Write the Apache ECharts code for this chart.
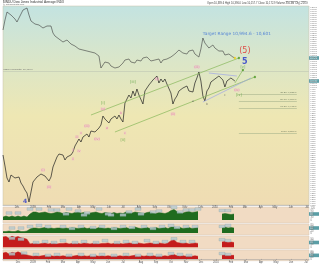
<!DOCTYPE html>
<html><head><meta charset="utf-8">
<script src="https://cdn.jsdelivr.net/npm/echarts@6/dist/echarts.min.js"></script>
<style>html,body{margin:0;padding:0;background:#fff}#c{width:320px;height:264px}</style>
</head><body><div id="c"></div>
<script>
// ---------- data ----------
const mainValues = [8300,8025,7725,7625,7800,7825,7725,7675,7750,7600,
7525,7425,7350,7125,7375,7625,7675,7750,7775,7825,
7800,7775,7725,7650,7750,8000,8125,8250,8325,8350,
8300,8175,8250,8200,8300,8375,8525,8575,8700,8625,
8750,8700,8825,8750,8900,8925,8875,8850,8975,9050,
9275,9200,9175,9100,9200,9175,9275,9200,9300,9200,
9125,9600,9650,9800,9725,9900,9775,9950,9800,9850,
9575,9900,9850,10050,10000,10175,10125,10275,10100,10200,
10125,10200,10075,10050,9850,9575,9700,9775,9900,9850,
9975,9925,10025,9900,9950,9875,10100,10225,10375,10150,
9775,9650,9900,9975,10125,10075,10200,10175,10275,10225,
10175,10000,10150,10100,10225,10175,10150];
const compareValues = [11425,11675,11875,11825,11800,11825,11700,11625,11725,11825,
11925,11950,11975,11800,11650,11600,11575,11550,11550,11500,
11475,11500,11525,11575,11525,11350,11275,11225,11200,11150,
11125,11150,11175,11125,11075,11050,11025,11000,10950,10950,
10925,10900,10900,10875,10875,10875,10850,10825,10775,10475,
10550,10625,10675,10600,10525,10500,10475,10475,10500,10550,
10600,10675,10650,10700,10625,10650,10600,10675,10700,10650,
10725,10675,10750,10700,10650,10600,10675,10650,10700,10600,
10675,10650,10700,10675,10750,10725,10825,10800,10925,10875,
10850,10900,10825,10900,10875,10925,10825,10850,10750,10950,
11225,11100,11150,10975,11025,11050,10975,11000,10900,10925,
10900,10800,10775,10825,10775,10750,10725];
const N = null;
const panel1 = [30,40,30,40,30,40,30,40,30,
60,80,80,70,75,80,70,65,70,80,75,
65,75,70,65,75,80,70,75,65,70,
75,80,70,65,75,70,65,75,65,70,
65,80,75,70,80,75,70,65,75,80,
70,65,75,70,65,75,95,105,85,75,
70,80,85,75,80,85,N,N,N,N,N,N,N,60,65,60,55,60];
const panel2 = [15,15,20,15,15,25,15,15,20,
40,50,50,45,50,55,45,50,45,50,50,
45,50,45,55,50,45,50,55,45,50,
50,45,55,50,45,50,45,55,50,45,
50,55,45,50,60,50,45,50,55,45,
50,55,45,50,55,45,60,60,50,55,
45,50,55,45,50,55,N,N,N,N,N,N,N,50,60,50,55,50];
const panel3 = [110,115,95,120,105,115,100,95,85,
35,40,45,35,40,45,35,40,45,35,40,
40,45,35,40,45,40,35,45,40,35,
40,45,35,40,40,45,35,40,45,40,
35,40,45,40,35,45,40,35,40,45,
40,35,45,40,35,45,70,80,50,45,
40,45,35,40,45,40,N,N,N,N,N,N,N,55,60,50,55,50];
const panel4 = [65,75,55,75,65,80,65,55,45,
35,30,35,30,35,40,30,35,30,35,30,
35,30,35,30,35,40,30,35,30,35,
30,35,30,35,30,35,30,35,30,35,
30,35,30,35,40,30,35,30,35,30,
35,30,35,30,35,30,45,50,35,30,
35,30,35,30,35,30,N,N,N,N,N,N,N,40,45,40,40,40];
const tagsP1 = [[2,70],[5,70],[9,110],[12,110],[16,100],[18,100],[21,60],[22,110],[25,90],[27,50],[28,70],[32,110],[35,60],[36,50],[40,50],[42,80],[45,110],[46,60],[50,80],[52,90],[57,125],[59,80],[61,100],[63,100],[65,110],[73,95],[75,95]];
const tagsP2 = [[3,50],[6,50],[9,65],[12,75],[15,65],[20,65],[23,45],[26,65],[30,55],[33,65],[37,45],[40,65],[43,55],[47,65],[50,45],[53,65],[56,75],[58,55],[61,65],[64,65],[73,65],[75,75]];
const tagsP3 = [[3,95],[6,85],[11,50],[14,60],[17,50],[20,70],[24,50],[27,60],[31,50],[34,70],[38,50],[41,60],[44,50],[48,70],[51,50],[54,60],[57,90],[60,60],[63,60],[73,80],[75,70]];
const tagsP4 = [[3,55],[7,65],[11,50],[15,40],[18,50],[22,40],[26,50],[30,40],[33,50],[37,40],[41,50],[45,40],[49,50],[52,40],[56,60],[59,50],[62,40],[73,60],[75,50]];
const trendLines = [
  {from:[44,9300], to:[118,10725], color:'#86b85a'},
  {from:[56,8875], to:[126,10250], color:'#86b85a'},
  {from:[100,9625], to:[124,10225], color:'#9fa6e6'},
  {from:[103,10350], to:[117,10275], color:'#9fa6e6'},
  {from:[116,10100], to:[120,10425], color:'#86b85a'}
];
const fibLevels = [
  {v:9825, t:'38.2% 9,825.0'},
  {v:9650, t:'50.0% 9,650.0'},
  {v:9475, t:'61.8% 9,475.0'},
  {v:8850, t:'100% 8,850.0'}
];
const longLevel = 10400;
const waveLabels = [
  {t:'4', c:11, v:7150, color:'#2233cc', s:6, b:true},
  {t:'(i)', c:20, v:7925, color:'#e0709c', s:3.3},
  {t:'(ii)', c:23, v:7500, color:'#e0709c', s:3.3},
  {t:'i', c:35, v:8425, color:'#e0709c', s:3.3},
  {t:'ii', c:35, v:8200, color:'#e0709c', s:3.3},
  {t:'iii', c:37, v:8750, color:'#e0709c', s:3.3},
  {t:'iv', c:38, v:8400, color:'#e0709c', s:3.3},
  {t:'v', c:39, v:8850, color:'#e0709c', s:3.3},
  {t:'(iii)', c:42, v:9025, color:'#e0709c', s:3.3},
  {t:'(iv)', c:47, v:8700, color:'#e0709c', s:3.3},
  {t:'(v)', c:50, v:9450, color:'#e0709c', s:3.3},
  {t:'[i]', c:50, v:9600, color:'#4a9a30', s:3.5},
  {t:'a', c:52, v:8975, color:'#e0709c', s:3.3},
  {t:'b', c:59, v:9350, color:'#e0709c', s:3.3},
  {t:'c', c:61, v:8850, color:'#e0709c', s:3.3},
  {t:'[ii]', c:60, v:8675, color:'#4a9a30', s:3.5},
  {t:'[iii]', c:65, v:10125, color:'#4a9a30', s:3.5},
  {t:'(i)', c:77, v:10200, color:'#e0709c', s:3.3},
  {t:'(ii)', c:85, v:9325, color:'#e0709c', s:3.3},
  {t:'a', c:95, v:9650, color:'#555', s:3},
  {t:'(iii)', c:97, v:10500, color:'#e0709c', s:3.3},
  {t:'b', c:102, v:9575, color:'#555', s:3},
  {t:'c', c:111, v:9800, color:'#555', s:3},
  {t:'(iv)', c:117, v:9925, color:'#e0709c', s:3.3},
  {t:'[iv]', c:118, v:9800, color:'#4a9a30', s:3.5},
  {t:'[v]', c:120, v:10500, color:'#4a9a30', s:3.5},
  {t:'5', c:121, v:10625, color:'#2233cc', s:8, b:true},
  {t:'(5)', c:121, v:10900, color:'#e02525', s:8},
  {t:'Target Range 10,994.6 - 10,601', c:117, v:11325, color:'#3a6fd6', s:4.3}
];

// ---------- categories ----------
function makeDates(n, step){
  const out=[]; const t0=Date.UTC(2008,10,3);
  for(let i=0;i<n;i++){ out.push(new Date(t0+i*step*864e5).toISOString().slice(0,10)); }
  return out;
}
const mainCats = makeDates(154, 4);
const panelCats = makeDates(103, 6);
const MON=['Jan','Feb','Mar','Apr','May','Jun','Jul','Aug','Sep','Oct','Nov','Dec'];
const monthStart = cats => (i) => i>0 && cats[i].slice(5,7)!==cats[i-1].slice(5,7);
const monFmt = v => { const m=+v.slice(5,7); return m===1 ? v.slice(0,4) : MON[m-1]; };
const pad = (a,n) => a.concat(new Array(n-a.length).fill(null));

const grad = new echarts.graphic.LinearGradient(0,0,0,1,[
  {offset:0,color:'#c3e3e1'},{offset:0.28,color:'#dbe6c8'},
  {offset:0.55,color:'#eee7b3'},{offset:1,color:'#efdcb3'}]);
const panelBg = '#f1dbc3';

const grids = [
  {left:3, top:6, width:306, height:199, show:true, backgroundColor:grad, borderColor:'#c9c1a9', borderWidth:0.5},
  {left:3, top:207, width:306, height:16, show:true, backgroundColor:panelBg, borderColor:'#d6c6b4', borderWidth:0.5},
  {left:3, top:224, width:306, height:11, show:true, backgroundColor:panelBg, borderColor:'#d6c6b4', borderWidth:0.5},
  {left:3, top:236, width:306, height:13, show:true, backgroundColor:panelBg, borderColor:'#d6c6b4', borderWidth:0.5},
  {left:3, top:250, width:306, height:12, show:true, backgroundColor:panelBg, borderColor:'#d6c6b4', borderWidth:0.5}
];
const panelRanges = [[-30,130],[-20,90],[-20,120],[-20,100]];

const xAxes = [{gridIndex:0, type:'category', data:mainCats, boundaryGap:false,
  axisLine:{lineStyle:{color:'#9a9a9a',width:0.5}},
  axisTick:{interval:monthStart(mainCats), length:1.5, lineStyle:{color:'#888',width:0.5}},
  axisLabel:{interval:monthStart(mainCats), fontSize:2.6, color:'#555', margin:0.5, formatter:monFmt},
  splitLine:{show:false}}];
for(let g=1; g<=4; g++){
  xAxes.push({gridIndex:g, type:'category', data:panelCats, boundaryGap:false,
    axisLine:{show:g===4, lineStyle:{color:'#9a9a9a',width:0.5}},
    axisTick:{show:g===4, interval:monthStart(panelCats), length:1, lineStyle:{color:'#888',width:0.5}},
    axisLabel:{show:g===4, interval:monthStart(panelCats), fontSize:2.6, color:'#555', margin:0.3, formatter:monFmt},
    splitLine:{show:false}});
}
const yAxes = [{gridIndex:0, type:'value', position:'right', min:7050, max:12025, interval:50,
  axisLine:{show:false}, axisTick:{show:true, length:1, lineStyle:{color:'#bbb',width:0.3}},
  axisLabel:{fontSize:2.4, color:'#808080', margin:1.5, formatter:v=>String(v)},
  splitLine:{show:false}}];
for(let g=1; g<=4; g++){
  yAxes.push({gridIndex:g, type:'value', position:'right', min:panelRanges[g-1][0], max:panelRanges[g-1][1],
    axisLine:{show:false}, axisTick:{show:false},
    axisLabel:{fontSize:2.6, color:'#7a7a7a', margin:1.5, showMinLabel:false, showMaxLabel:false},
    splitLine:{show:false}});
}

const series = [];
series.push({type:'line', name:'compare', xAxisIndex:0, yAxisIndex:0, data:pad(compareValues,154),
  showSymbol:false, lineStyle:{color:'#3a3a3a', width:0.6}, z:3});
series.push({type:'line', name:'INDU', xAxisIndex:0, yAxisIndex:0, data:pad(mainValues,154),
  showSymbol:false, lineStyle:{color:'#1e1e1e', width:0.7}, z:4,
  markLine:{silent:true, symbol:'none', data:[
    {yAxis:longLevel, lineStyle:{color:'#b9c1b1', width:0.5, type:'solid'},
     label:{show:true, position:'insideStartTop', fontSize:2.5, color:'#6a6a6a', formatter:'INDU Horizontal  10,400.0', distance:0.5}},
    ...fibLevels.map(f => [
      {coord:[118, f.v], lineStyle:{color:'#a7b38d', width:0.6, type:'solid'},
       label:{show:true, position:'insideEndTop', fontSize:2.5, color:'#6f7a5f', formatter:f.t, distance:0.5}},
      {coord:[147, f.v]}])
  ]}});
trendLines.forEach(t => series.push({type:'line', xAxisIndex:0, yAxisIndex:0,
  data:[t.from, t.to], showSymbol:false, lineStyle:{color:t.color, width:0.7}, z:5}));
series.push({type:'scatter', xAxisIndex:0, yAxisIndex:0, symbolSize:2.4, z:6,
  data:[
    {value:[116, compareValues[116]], itemStyle:{color:'#f2d21c'}},
    ...trendLines.filter(t=>t.color==='#86b85a').map(t=>({value:t.to, itemStyle:{color:'#4f9a2a'}}))
  ]});
series.push({type:'scatter', xAxisIndex:0, yAxisIndex:0, symbolSize:0, z:7,
  data: waveLabels.map(w => ({value:[w.c, w.v], name:w.t,
    label:{show:true, position:'inside', formatter:w.t, color:w.color, fontSize:w.s,
      fontWeight: w.b ? 'bold' : 'normal', fontFamily:'DejaVu Sans, sans-serif',
      backgroundColor: w.color==='#e0709c' ? 'rgba(244,190,215,0.55)' : 'transparent', padding:[0,0.3]}}))});

const panels = [panel1, panel2, panel3, panel4];
const pColors = ['#1f6b1f','#1f6b1f','#c41c1c','#c41c1c'];
const tags = [tagsP1, tagsP2, tagsP3, tagsP4];
panels.forEach((p, k) => {
  series.push({type:'line', xAxisIndex:k+1, yAxisIndex:k+1, data:pad(p,103), showSymbol:false,
    lineStyle:{color:pColors[k], width:0.5}, areaStyle:{color:pColors[k], opacity:1}, z:2});
  series.push({type:'scatter', xAxisIndex:k+1, yAxisIndex:k+1, data:tags[k], symbol:'rect',
    symbolSize:[6,2.6], itemStyle:{color:'#b8cbd0', borderColor:'#7b99a2', borderWidth:0.3}, z:3});
});

const chart = echarts.init(document.getElementById('c'));
chart.setOption({animation:false, backgroundColor:'#ffffff', grid:grids, xAxis:xAxes, yAxis:yAxes, series});

// header texts and value tags on the right
const gfx = [
  {type:'text', left:3, top:0.5, style:{text:'$INDU Dow Jones Industrial Average INDX', fontSize:3.2, fill:'#333'}},
  {type:'text', left:3, top:3.5, style:{text:'@ StockCharts.com', fontSize:2.4, fill:'#666'}},
  {type:'text', left:207, top:1.5, style:{text:'Open 10,389.6 High 10,396.0 Low 10,157.7 Close 10,172.9 Volume 356.4M Chg -216.9', fontSize:2.6, fill:'#444'}},
  {type:'text', left:286, top:0, style:{text:'22-Jan-2010 4:00pm', fontSize:2.2, fill:'#666'}}
];
const tagDefs = [
  {y:chart.convertToPixel({yAxisIndex:0}, compareValues[compareValues.length-1]), t:String(compareValues[compareValues.length-1])},
  {y:chart.convertToPixel({yAxisIndex:0}, mainValues[mainValues.length-1]), t:String(mainValues[mainValues.length-1])}
];
panels.forEach((p,k) => { const last = p[p.length-1];
  tagDefs.push({y:chart.convertToPixel({yAxisIndex:k+1}, last), t:String(last)}); });
tagDefs.forEach(d => {
  gfx.push({type:'rect', left:309, top:d.y-1.8, shape:{width:10, height:3.6}, style:{fill:'#5b9ea6'}});
  gfx.push({type:'text', left:310, top:d.y-1.5, style:{text:d.t, fontSize:2.6, fill:'#eef8f8'}});
});
chart.setOption({graphic:gfx});
</script></body></html>
